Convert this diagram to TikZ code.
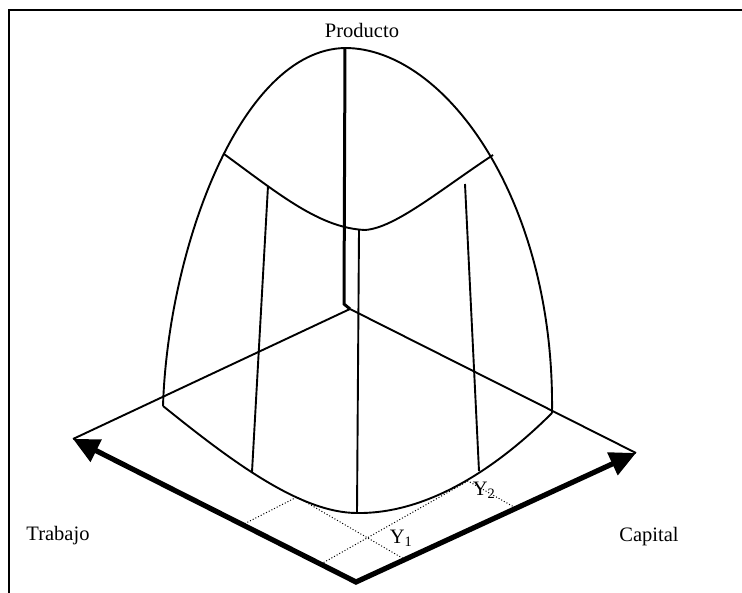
\documentclass[tikz,border=0pt]{standalone}
\usepackage{fontspec}
\setmainfont{Liberation Serif}
\usetikzlibrary{arrows.meta}
\begin{document}
\begin{tikzpicture}[x=1pt,y=-1pt,
  edge/.style={line width=1.9pt,line join=round},
  axisz/.style={line width=3pt},
  axisxy/.style={line width=5.2pt,line join=miter,{Triangle[length=26pt,width=24pt]}-{Triangle[length=26pt,width=24pt]}},
  proj/.style={line width=1pt,dotted,black},
  lbl/.style={font=\fontsize{20.5}{24}\selectfont,inner sep=0pt}]
\useasboundingbox (0,0) rectangle (742,593);
% frame
\coordinate (f1) at (9,593); \coordinate (f2) at (9,10); \coordinate (f3) at (742,10);
\draw[line width=2.6pt] (f1) -- (f2) -- (f3);
% base
\coordinate (L) at (73,439);
\coordinate (B) at (356,582);
\coordinate (R) at (636,453);
\coordinate (O) at (350,309);
% dome points
\coordinate (T) at (345,48);
\coordinate (BL) at (163,406);
\coordinate (BR) at (552,413);
\coordinate (M) at (357,513);
\coordinate (UL) at (224,154);
\coordinate (UM) at (365,230);
\coordinate (UR) at (493,155);
% back edges
\draw[edge] (O) -- (L);
\draw[edge] (O) -- (R);
% base axes
\draw[axisxy] (L) -- (B) -- (R);
% vertical axis
\coordinate (Zb) at (344,304);
\draw[axisz] (T) -- (Zb) -- (O);
% arches
\draw[edge] (BL) .. controls (168,250) and (240,50) .. (T);
\draw[edge] (T) .. controls (445,48) and (555,200) .. (BR);
% bottom front curve
\draw[edge] (BL) .. controls (230,460) and (300,513) .. (M);
\draw[edge] (M) .. controls (430,514) and (500,465) .. (BR);
% upper cross curve
\draw[edge] (UL) .. controls (280,195) and (320,228) .. (UM);
\draw[edge] (UM) .. controls (395,228) and (440,190) .. (UR);
% meridians
\coordinate (m1t) at (268,186); \coordinate (m1b) at (252,472);
\coordinate (m2t) at (359,230); \coordinate (m2b) at (357,513);
\coordinate (m3t) at (465,184); \coordinate (m3b) at (479,471);
\draw[edge] (m1t) -- (m1b);
\draw[edge] (m2t) -- (m2b);
\draw[edge] (m3t) -- (m3b);
% projection lines
\coordinate (A1) at (242,525); \coordinate (P1) at (297,497); \coordinate (C1) at (404,559);
\coordinate (A2) at (321,564); \coordinate (P2) at (468,481); \coordinate (C2) at (514,507);
\draw[proj] (A1) -- (P1) -- (C1);
\draw[proj] (A2) -- (P2) -- (C2);
% labels
\node[lbl] (prod) at (362,30) {Producto};
\node[lbl] (trab) at (58,536) {Trabajo};
\node[lbl] (cap) at (649,537) {Capital};
\node[lbl] (y1) at (401,538) {Y\textsubscript{1}};
\node[lbl] (y2) at (484,490) {Y\textsubscript{2}};
\end{tikzpicture}
\end{document}
